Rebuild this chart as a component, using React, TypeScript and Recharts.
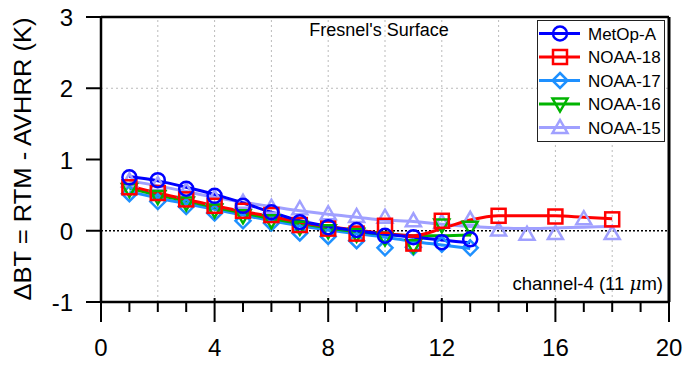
import React from 'react';
import { ComposedChart, Line, Scatter, XAxis, YAxis, ReferenceLine } from 'recharts';

// ---------- data ----------
const metopChannels = [1, 2, 3, 4, 5, 6, 7, 8, 9, 10, 11, 12, 13];
const metopPoints = [0.75, 0.71, 0.59, 0.49, 0.35, 0.26, 0.12, 0.05, 0.01, -0.07, -0.09, -0.16, -0.12];
const metopFit = [0.76, 0.7, 0.61, 0.51, 0.39, 0.26, 0.14, 0.06, 0.0, -0.05, -0.09, -0.13, -0.17];

const noaa18Channels = [1, 2, 3, 4, 5, 6, 7, 8, 9, 10, 11, 12, 14, 16, 18];
const noaa18Points = [0.61, 0.53, 0.44, 0.35, 0.28, 0.22, 0.08, 0.03, -0.04, 0.07, -0.18, 0.14, 0.21, 0.2, 0.16];
const noaa18FitChannels = [1, 2, 3, 4, 5, 6, 7, 8, 9, 10, 11, 12, 13, 14, 15, 16, 17, 18];
const noaa18Fit = [0.63, 0.53, 0.44, 0.35, 0.27, 0.2, 0.12, 0.06, 0.01, -0.04, -0.07, 0.03, 0.15, 0.21, 0.21, 0.21, 0.19, 0.17];

const noaa17Channels = [1, 2, 3, 4, 5, 6, 7, 8, 9, 10, 11, 12, 13];
const noaa17Points = [0.52, 0.41, 0.34, 0.25, 0.14, 0.11, -0.03, -0.08, -0.14, -0.24, -0.23, -0.19, -0.24];
const noaa17Fit = [0.55, 0.46, 0.38, 0.3, 0.22, 0.14, 0.07, 0.01, -0.04, -0.09, -0.15, -0.2, -0.25];

const noaa16Channels = [1, 2, 3, 4, 5, 6, 7, 8, 9, 10, 11, 12, 13];
const noaa16Points = [0.58, 0.48, 0.39, 0.29, 0.21, 0.14, 0.05, 0.0, -0.05, -0.1, -0.21, 0.08, 0.05];
const noaa16Fit = [0.6, 0.5, 0.42, 0.33, 0.25, 0.17, 0.1, 0.04, -0.01, -0.05, -0.07, -0.07, -0.06];

const noaa15Channels = [1, 2, 3, 4, 5, 6, 7, 8, 9, 10, 11, 12, 13, 14, 15, 16, 17, 18];
const noaa15Points = [0.7, 0.65, 0.56, 0.46, 0.4, 0.33, 0.31, 0.24, 0.2, 0.19, 0.14, 0.12, 0.16, 0.01, -0.05, -0.04, 0.17, -0.04];
const noaa15Fit = [0.7, 0.63, 0.55, 0.47, 0.4, 0.34, 0.28, 0.23, 0.19, 0.15, 0.13, 0.09, 0.06, 0.04, 0.03, 0.04, 0.05, 0.06];

const xTicks = [0, 1, 2, 3, 4, 5, 6, 7, 8, 9, 10, 11, 12, 13, 14, 15, 16, 17, 18, 19, 20];
const yTicks = [-1, 0, 1, 2, 3];
const xGrid = [2, 4, 6, 8, 10, 12, 14, 16, 18];
const seriesNames = ['MetOp-A', 'NOAA-18', 'NOAA-17', 'NOAA-16', 'NOAA-15'];

const toPts = (xs: number[], ys: number[]) => xs.map((x, i) => ({ x, y: ys[i] }));

const FONT = '"Liberation Sans", Arial, sans-serif';
const C_METOP = '#0000FF';
const C_N18 = '#FF0000';
const C_N17 = '#1E90FF';
const C_N16 = '#00B400';
const C_N15 = '#A0A0FF';

type Kind = 'circle' | 'square' | 'diamond' | 'tdown' | 'tup';

function Marker({ cx, cy, kind, color }: { cx: number; cy: number; kind: Kind; color: string }) {
  const sw = 2.5;
  if (cx == null || cy == null || isNaN(cx) || isNaN(cy)) return <g />;
  switch (kind) {
    case 'circle':
      return <circle cx={cx} cy={cy} r={7} fill="none" stroke={color} strokeWidth={sw} />;
    case 'square':
      return <rect x={cx - 7} y={cy - 7} width={14} height={14} fill="none" stroke={color} strokeWidth={sw} />;
    case 'diamond':
      return <polygon points={`${cx},${cy - 7.5} ${cx + 7.5},${cy} ${cx},${cy + 7.5} ${cx - 7.5},${cy}`} fill="none" stroke={color} strokeWidth={sw} />;
    case 'tdown':
      return <polygon points={`${cx - 7.5},${cy - 5.5} ${cx + 7.5},${cy - 5.5} ${cx},${cy + 7.5}`} fill="none" stroke={color} strokeWidth={sw} />;
    case 'tup':
      return <polygon points={`${cx - 7.5},${cy + 5.5} ${cx + 7.5},${cy + 5.5} ${cx},${cy - 7.5}`} fill="none" stroke={color} strokeWidth={sw} />;
  }
  return <g />;
}

const shapeFor = (kind: Kind, color: string) => (props: any) => (
  <Marker cx={props.cx} cy={props.cy} kind={kind} color={color} />
);

// Plot box: left 101, right 669, top 17, bottom 302
const PLOT_BOTTOM = 302;
const PLOT_LEFT = 101;

const XTick = (props: any) => {
  const { x, payload } = props;
  const y = PLOT_BOTTOM;
  const v = payload.value;
  const major = v % 4 === 0;
  return (
    <g>
      <line x1={x} x2={x} y1={major ? y - 4 : y} y2={major ? y + 20 : y + 10} stroke="#000" strokeWidth={2} />
      {major && (
        <text x={x} y={y + 54} textAnchor="middle" fontSize={24} fontFamily={FONT} fill="#000">
          {v}
        </text>
      )}
    </g>
  );
};

const YTick = (props: any) => {
  const { y, payload } = props;
  const x = PLOT_LEFT;
  return (
    <g>
      <line x1={x - 15} x2={x} y1={y} y2={y} stroke="#000" strokeWidth={2} />
      <text x={x - 28} y={y + 9} textAnchor="end" fontSize={24} fontFamily={FONT} fill="#000">
        {payload.value}
      </text>
    </g>
  );
};

const legendItems: { name: string; color: string; kind: Kind }[] = [
  { name: seriesNames[0], color: C_METOP, kind: 'circle' },
  { name: seriesNames[1], color: C_N18, kind: 'square' },
  { name: seriesNames[2], color: C_N17, kind: 'diamond' },
  { name: seriesNames[3], color: C_N16, kind: 'tdown' },
  { name: seriesNames[4], color: C_N15, kind: 'tup' },
];

export default function App() {
  const series = [
    { name: seriesNames[4], xs: noaa15Channels, pts: noaa15Points, fit: noaa15Fit, fitXs: noaa15Channels, color: C_N15, kind: 'tup' as Kind },
    { name: seriesNames[2], xs: noaa17Channels, pts: noaa17Points, fit: noaa17Fit, fitXs: noaa17Channels, color: C_N17, kind: 'diamond' as Kind },
    { name: seriesNames[3], xs: noaa16Channels, pts: noaa16Points, fit: noaa16Fit, fitXs: noaa16Channels, color: C_N16, kind: 'tdown' as Kind },
    { name: seriesNames[1], xs: noaa18Channels, pts: noaa18Points, fit: noaa18Fit, fitXs: noaa18FitChannels, color: C_N18, kind: 'square' as Kind },
    { name: seriesNames[0], xs: metopChannels, pts: metopPoints, fit: metopFit, fitXs: metopChannels, color: C_METOP, kind: 'circle' as Kind },
  ];

  return (
    <div style={{ position: 'absolute', left: 0, top: 0, width: 684, height: 366, background: '#fff' }}>
      <ComposedChart width={684} height={366} margin={{ top: 7, right: 5, bottom: 24, left: 41 }}>
        <XAxis
          xAxisId="b"
          type="number"
          dataKey="x"
          domain={[0, 20]}
          ticks={xTicks}
          interval={0}
          height={40}
          tickLine={false}
          axisLine={{ stroke: '#000', strokeWidth: 2.5 }}
          tick={<XTick />}
          allowDataOverflow
        />
        <XAxis
          xAxisId="t"
          orientation="top"
          type="number"
          domain={[0, 20]}
          height={10}
          tick={false}
          tickLine={false}
          axisLine={{ stroke: '#000', strokeWidth: 2.5 }}
        />
        <YAxis
          yAxisId="l"
          type="number"
          domain={[-1, 3]}
          ticks={yTicks}
          interval={0}
          width={60}
          tickLine={false}
          axisLine={{ stroke: '#000', strokeWidth: 2.5 }}
          tick={<YTick />}
          allowDataOverflow
        />
        <YAxis
          yAxisId="r"
          orientation="right"
          type="number"
          domain={[-1, 3]}
          width={10}
          tick={false}
          tickLine={false}
          axisLine={{ stroke: '#000', strokeWidth: 3 }}
        />
        {xGrid.map((g) => (
          <ReferenceLine key={`g${g}`} xAxisId="b" yAxisId="l" x={g} stroke="#bbbbbb" strokeWidth={1} strokeDasharray="2 3" />
        ))}
        <ReferenceLine xAxisId="b" yAxisId="l" y={2} stroke="#bbbbbb" strokeWidth={1} strokeDasharray="2 3" />
        <ReferenceLine xAxisId="b" yAxisId="l" y={0} stroke="#000" strokeWidth={1.5} strokeDasharray="2 2" />
        {series.map((s) => [
          <Line
            key={`l-${s.name}`}
            xAxisId="b"
            yAxisId="l"
            data={toPts(s.fitXs, s.fit)}
            dataKey="y"
            type="monotone"
            stroke={s.color}
            strokeWidth={3}
            dot={false}
            activeDot={false}
            isAnimationActive={false}
            legendType="none"
          />,
          <Scatter
            key={`s-${s.name}`}
            xAxisId="b"
            yAxisId="l"
            data={toPts(s.xs, s.pts)}
            dataKey="y"
            shape={shapeFor(s.kind, s.color)}
            isAnimationActive={false}
            legendType="none"
          />,
        ])}
      </ComposedChart>
      <svg width={684} height={366} style={{ position: 'absolute', left: 0, top: 0, pointerEvents: 'none' }}>
        <text
          transform="translate(31,159) rotate(-90)"
          textAnchor="middle"
          fontSize={23}
          fontFamily={FONT}
          fill="#000"
          textLength={283}
          lengthAdjust="spacingAndGlyphs"
        >
          ΔBT = RTM - AVHRR (K)
        </text>
        <text x={379} y={36} textAnchor="middle" fontSize={18} fontFamily={FONT} fill="#000">
          Fresnel's Surface
        </text>
        <text x={663} y={290} textAnchor="end" fontSize={18.5} fontFamily={FONT} fill="#000">
          channel-4 (11 <tspan fontStyle="italic" fontFamily="'DejaVu Serif', serif">μ</tspan>m)
        </text>
        <g transform="translate(537,20)">
          <rect x={0.5} y={0.5} width={127} height={121} fill="#fff" stroke="#222" strokeWidth={1} />
          {legendItems.map((it, i) => {
            const cy = 13.5 + i * 23.5;
            return (
              <g key={it.name}>
                <line x1={2} x2={43} y1={cy} y2={cy} stroke={it.color} strokeWidth={3} />
                <Marker cx={23} cy={cy} kind={it.kind} color={it.color} />
                <text x={51} y={cy + 6} fontSize={17} fontFamily={FONT} fill="#000">
                  {it.name}
                </text>
              </g>
            );
          })}
        </g>
      </svg>
    </div>
  );
}
